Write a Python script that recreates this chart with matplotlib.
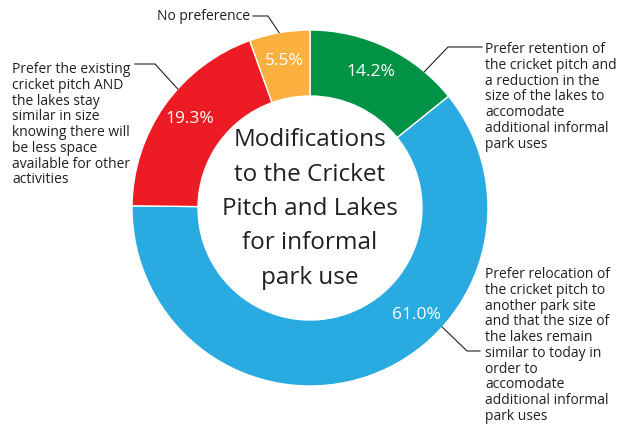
import numpy as np
import matplotlib
matplotlib.use("Agg")
import matplotlib.pyplot as plt

plt.rcParams['font.family'] = ['Open Sans', 'DejaVu Sans']

# data
categories = [
    "Prefer retention of\nthe cricket pitch and\na reduction in the\nsize of the lakes to\naccomodate\nadditional informal\npark uses",
    "Prefer relocation of\nthe cricket pitch to\nanother park site\nand that the size of\nthe lakes remain\nsimilar to today in\norder to\naccomodate\nadditional informal\npark uses",
    "Prefer the existing\ncricket pitch AND\nthe lakes stay\nsimilar in size\nknowing there will\nbe less space\navailable for other\nactivities",
    "No preference",
]
values = [14.2, 61.0, 19.3, 5.5]
colors = ["#009245", "#29abe2", "#ed1c24", "#fbb040"]
title = "Modifications\nto the Cricket\nPitch and Lakes\nfor informal\npark use"

W, H = 623, 427
cx, cy = 310, H - 209
R_out, R_in = 178, 112
txt_col = "#231f20"

fig = plt.figure(figsize=(W / 100, H / 100), dpi=100)
ax = fig.add_axes([0, 0, 1, 1])

wedges, _ = ax.pie(values, colors=colors, startangle=90, counterclock=False,
                   center=(cx, cy), radius=R_out, frame=True,
                   wedgeprops=dict(width=R_out - R_in, edgecolor='white', linewidth=1))
ax.set_xlim(0, W)
ax.set_ylim(0, H)
ax.set_aspect('equal')
ax.axis('off')

# percentage labels (angle clockwise from top, degrees)
pct_angles = [24, 135, 307, 350]
pct_r = 150
for v, a in zip(values, pct_angles):
    t = np.deg2rad(a)
    ax.text(cx + pct_r * np.sin(t), cy + pct_r * np.cos(t), f"{v:.1f}%",
            color='white', fontsize=12.5, ha='center', va='center')

ax.text(cx, cy, title, ha='center', va='center', fontsize=17.5, color=txt_col,
        linespacing=1.58)

# leader lines: anchor angle on the ring, elbow, end (pixel coords from top)
anchor_angles = [40, 132, 312, 350]
elbows = [(448, 48), (467, 352), (155, 65), (268, 17)]
ends = [(482, 48), (480, 352), (135, 65), (253, 17)]
for a, (ex, ey), (fx, fy) in zip(anchor_angles, elbows, ends):
    t = np.deg2rad(a)
    xs = [cx + R_out * np.sin(t), ex, fx]
    ys = [cy + R_out * np.cos(t), H - ey, H - fy]
    ax.plot(xs, ys, color=txt_col, lw=0.8)

# category texts
text_pos = [(485, 42, 'left', 'top'), (485, 267, 'left', 'top'),
            (12, 62, 'left', 'top'), (250, 17, 'right', 'center')]
for lab, (x, y, ha, va) in zip(categories, text_pos):
    ax.text(x, H - y, lab, ha=ha, va=va, fontsize=10, color=txt_col,
            linespacing=1.07)

fig.savefig("out.png", dpi=100)
